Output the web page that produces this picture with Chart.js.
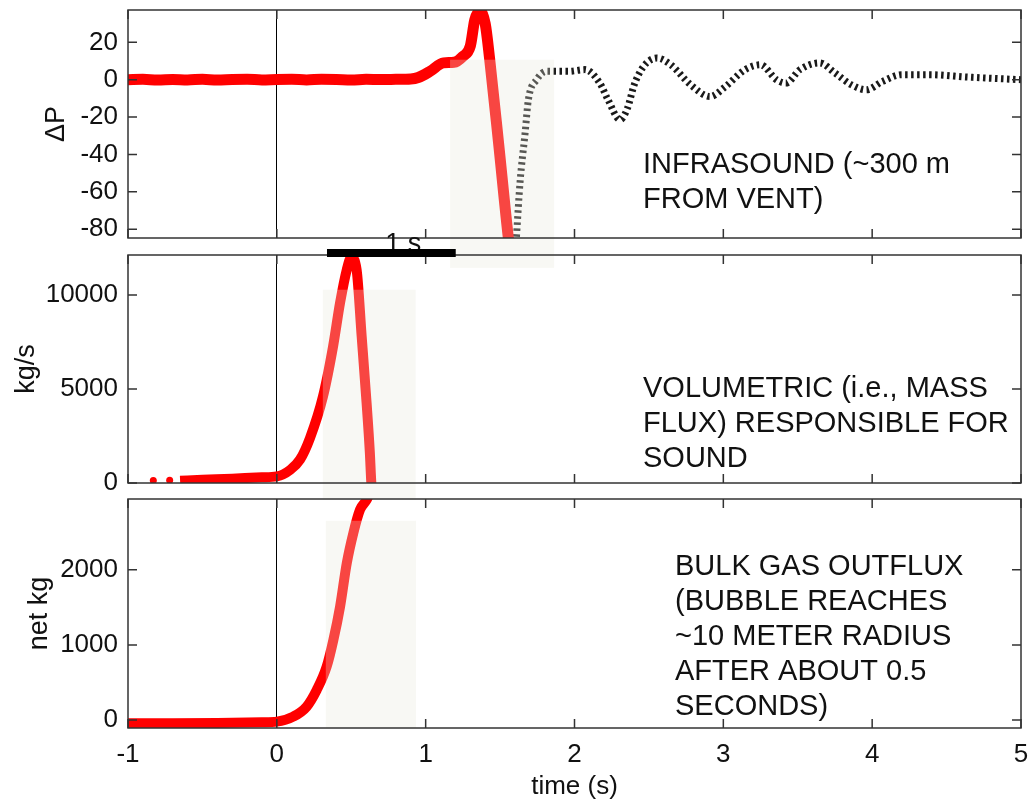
<!DOCTYPE html>
<html>
<head>
<meta charset="utf-8">
<script src="https://cdn.jsdelivr.net/npm/chart.js@4.4.0/dist/chart.umd.min.js"></script>
<style>
  html, body { margin: 0; padding: 0; background: #fff; }
  #wrap { position: relative; width: 1031px; height: 805px; }
  #wrap canvas { position: absolute; left: 0; top: 0; }
</style>
</head>
<body>
<div id="wrap">
  <canvas id="pressureChart" width="1031" height="805"></canvas>
  <canvas id="fluxChart" width="1031" height="805"></canvas>
  <canvas id="massChart" width="1031" height="805"></canvas>
</div>
<script>
const xTicks = [-1, 0, 1, 2, 3, 4, 5];

// top panel: infrasound, red trace + dotted black trace
const pressureTime = [-1, -0.9, -0.8, -0.7, -0.6, -0.5, -0.4, -0.3, -0.2, -0.1, 0, 0.1, 0.2, 0.3, 0.4, 0.5, 0.6, 0.7, 0.8, 0.9, 0.95, 1.03, 1.12, 1.19, 1.25, 1.30, 1.33, 1.365, 1.40, 1.43, 1.49, 1.556, 1.58];
const pressureVals = [0, 0.2, -0.2, 0.1, -0.1, 0.2, -0.2, 0.1, 0.2, -0.1, 0.1, 0.2, -0.1, 0.2, 0.1, -0.2, 0.2, 0.1, 0.2, 0.4, 1.2, 4.5, 9, 9.3, 12.5, 18, 32, 36.6, 30, 11, -34, -85, -100];
const echoTime = [1.61, 1.634, 1.668, 1.69, 1.746, 1.813, 1.9, 1.96, 2.07, 2.17, 2.225, 2.306, 2.357, 2.40, 2.463, 2.553, 2.647, 2.78, 2.91, 3.015, 3.146, 3.25, 3.357, 3.42, 3.515, 3.647, 3.75, 3.86, 3.96, 4.07, 4.2, 4.38, 4.645, 5.0];
const echoVals = [-84, -55, -28.6, -10.7, 0, 4.5, 4.5, 4.5, 5.4, -1.8, -10.7, -21.4, -15, -3, 7, 11.6, 8, -2.7, -9, -3.6, 5.4, 8, 0, -1.8, 5.4, 9, 3.6, -2.7, -5.4, -0.9, 2.7, 2.7, 1.4, 0];
const pressureTicks = [-80, -60, -40, -20, 0, 20];

// middle panel: volumetric flux
const fluxDotTime = [-0.83, -0.72];
const fluxDotVals = [130, 140];
const fluxTime = [-0.65, -0.5, -0.3, -0.1, 0, 0.09, 0.156, 0.223, 0.31, 0.378, 0.425, 0.47, 0.50, 0.536, 0.57, 0.603, 0.625, 0.635, 0.645];
const fluxVals = [120, 170, 230, 300, 350, 700, 1250, 2400, 4600, 7270, 9590, 11350, 12000, 11350, 7800, 4260, 1610, 0, -600];
const fluxTicks = [0, 5000, 10000];

// bottom panel: net mass
const massTime = [-1, -0.7, -0.4, -0.1, 0, 0.11, 0.2, 0.268, 0.335, 0.38, 0.425, 0.47, 0.514, 0.559, 0.604, 0.63];
const massVals = [-44, -44, -40, -30, -22, 44, 177, 400, 711, 1067, 1511, 2089, 2489, 2800, 2933, 3050];
const massTicks = [0, 1000, 2000];

const FONT = '"Liberation Sans", Arial, sans-serif';
const RED = 'rgb(255, 0, 0)';

const pts = (xs, ys) => xs.map((t, i) => ({x: t, y: ys[i]}));

const panelDeco = {
    id: 'panelDeco',
    afterDatasetsDraw(chart, args, opts) {
        const {ctx, chartArea: a, scales: {x, y}} = chart;
        ctx.save();
        // pale box laid over the trace
        const bx0 = x.getPixelForValue(opts.box[0]);
        const bx1 = x.getPixelForValue(opts.box[1]);
        const by0 = y.getPixelForValue(opts.box[2]);
        const by1 = y.getPixelForValue(opts.box[3]);
        ctx.fillStyle = 'rgba(232, 232, 220, 0.3)';
        ctx.fillRect(bx0, by0, bx1 - bx0, by1 - by0);
        // frame + inward ticks
        ctx.strokeStyle = '#333';
        ctx.lineWidth = 1.5;
        ctx.strokeRect(a.left, a.top, a.right - a.left, a.bottom - a.top);
        ctx.beginPath();
        x.ticks.forEach(t => {
            const px = x.getPixelForValue(t.value);
            ctx.moveTo(px, a.bottom); ctx.lineTo(px, a.bottom - 9);
            ctx.moveTo(px, a.top); ctx.lineTo(px, a.top + 9);
        });
        y.ticks.forEach(t => {
            const py = y.getPixelForValue(t.value);
            ctx.moveTo(a.left, py); ctx.lineTo(a.left + 9, py);
            ctx.moveTo(a.right, py); ctx.lineTo(a.right - 9, py);
        });
        ctx.stroke();
        // text note
        ctx.fillStyle = '#111';
        ctx.font = '29px ' + FONT;
        ctx.textBaseline = 'middle';
        ctx.textAlign = 'left';
        opts.note.forEach((line, i) => ctx.fillText(line, opts.noteX, opts.noteY + i * 35));
        // "1 s" scale bar
        if (opts.bar) {
            const b0 = x.getPixelForValue(opts.bar[0]);
            const b1 = x.getPixelForValue(opts.bar[1]);
            ctx.font = '27px ' + FONT;
            ctx.textAlign = 'center';
            ctx.textBaseline = 'alphabetic';
            ctx.fillText('1 s', x.getPixelForValue(opts.bar[2]), a.top - 3);
            ctx.fillStyle = '#000';
            ctx.fillRect(b0, a.top - 6, b1 - b0, 8);
        }
        ctx.restore();
    }
};

function xScale(showLabels) {
    return {
        type: 'linear',
        min: -1,
        max: 5,
        afterBuildTicks: s => { s.ticks = xTicks.map(v => ({value: v})); },
        afterFit: s => { s.height = showLabels ? 77 : 0; s.paddingLeft = 0; s.paddingRight = 0; },
        grid: {
            color: c => (c.tick && c.tick.value === 0) ? '#000' : 'rgba(0,0,0,0)',
            lineWidth: 1,
            drawTicks: false
        },
        border: { display: false },
        ticks: { display: showLabels, padding: 11, color: '#111', font: { family: FONT, size: 26 }, callback: v => String(v) },
        title: { display: showLabels, text: 'time (s)', color: '#111', font: { family: FONT, size: 26 }, padding: { top: 0, bottom: 3 } }
    };
}

function yScale(min, max, tickVals, title, titlePad) {
    return {
        min: min,
        max: max,
        afterBuildTicks: s => { s.ticks = tickVals.map(v => ({value: v})); },
        afterFit: s => { s.width = 128; s.paddingTop = 0; s.paddingBottom = 0; },
        grid: { display: false, drawTicks: false },
        border: { display: false },
        ticks: { padding: 10, color: '#111', font: { family: FONT, size: 26 }, callback: v => String(v) },
        title: { display: true, text: title, color: '#111', font: { family: FONT, size: 27 }, padding: { top: titlePad, bottom: 0 } }
    };
}

const baseLine = {
    borderColor: RED,
    backgroundColor: RED,
    borderWidth: 9,
    pointRadius: 0,
    pointBorderWidth: 0,
    cubicInterpolationMode: 'monotone',
    clip: 0
};

new Chart(document.getElementById('pressureChart'), {
    type: 'line',
    data: {
        datasets: [
            Object.assign({}, baseLine, { data: pts(pressureTime, pressureVals), borderWidth: 11 }),
            {
                data: pts(echoTime, echoVals),
                borderColor: '#1a1a1a',
                borderWidth: 7,
                borderDash: [2.5, 3.5],
                borderCapStyle: 'butt',
                pointRadius: 0,
                cubicInterpolationMode: 'monotone',
                clip: 0
            }
        ]
    },
    options: {
        responsive: false,
        animation: false,
        layout: { padding: { top: 10, bottom: 567, left: 0, right: 10 } },
        scales: {
            x: xScale(false),
            y: yScale(-84.7, 37.3, pressureTicks, 'ΔP', 40)
        },
        plugins: {
            legend: { display: false },
            tooltip: { enabled: false },
            panelDeco: {
                box: [1.164, 1.863, 10.7, -100.7],
                note: ['INFRASOUND (~300 m', 'FROM VENT)'],
                noteX: 643,
                noteY: 165
            }
        }
    },
    plugins: [panelDeco]
});

new Chart(document.getElementById('fluxChart'), {
    type: 'line',
    data: {
        datasets: [
            Object.assign({}, baseLine, { data: pts(fluxTime, fluxVals), borderWidth: 10 }),
            Object.assign({}, baseLine, { data: pts(fluxDotTime, fluxDotVals), showLine: false, pointRadius: 3.5 })
        ]
    },
    options: {
        responsive: false,
        animation: false,
        layout: { padding: { top: 255, bottom: 322, left: 0, right: 10 } },
        scales: {
            x: xScale(false),
            y: yScale(0, 12130, fluxTicks, 'kg/s', 10)
        },
        plugins: {
            legend: { display: false },
            tooltip: { enabled: false },
            panelDeco: {
                box: [0.309, 0.933, 10282, -888],
                note: ['VOLUMETRIC (i.e., MASS', 'FLUX) RESPONSIBLE FOR', 'SOUND'],
                noteX: 643,
                noteY: 389,
                bar: [0.337, 1.202, 0.85]
            }
        }
    },
    plugins: [panelDeco]
});

new Chart(document.getElementById('massChart'), {
    type: 'line',
    data: {
        datasets: [
            Object.assign({}, baseLine, { data: pts(massTime, massVals), borderWidth: 10 })
        ]
    },
    options: {
        responsive: false,
        animation: false,
        layout: { padding: { top: 499, bottom: 0, left: 0, right: 10 } },
        scales: {
            x: xScale(true),
            y: yScale(-107, 2943, massTicks, 'net kg', 23)
        },
        plugins: {
            legend: { display: false },
            tooltip: { enabled: false },
            panelDeco: {
                box: [0.329, 0.935, 2653, -107],
                note: ['BULK GAS OUTFLUX', '(BUBBLE REACHES', '~10 METER RADIUS', 'AFTER ABOUT 0.5', 'SECONDS)'],
                noteX: 675,
                noteY: 567
            }
        }
    },
    plugins: [panelDeco]
});
</script>
</body>
</html>
